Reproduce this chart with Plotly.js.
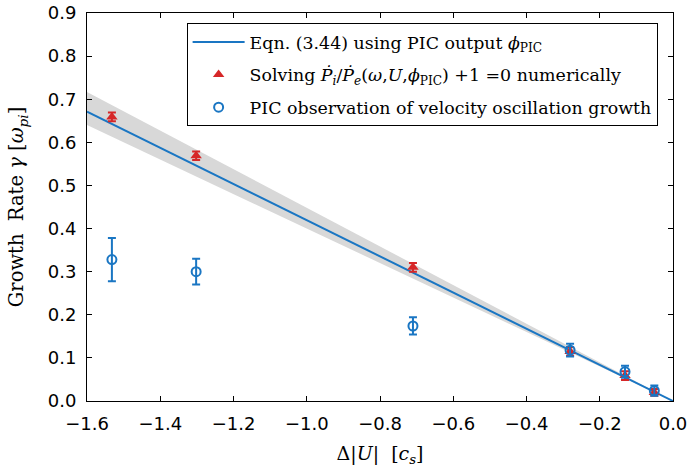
<!DOCTYPE html>
<html>
<head>
<meta charset="utf-8">
<script src="https://cdn.plot.ly/plotly-3.0.1.min.js"></script>
<style>html,body{margin:0;padding:0;background:#fff;}</style>
</head>
<body>
<div id="chart" style="width:688px;height:470px;"></div>
<script>
// Model line (Eqn. 3.44) and its uncertainty band
const lineX = [-1.6, 0.0];
const lineY = [0.671, 0.0];
const bandUpperY = [0.717, 0.0];
const bandLowerY = [0.640, 0.0];

// Numerical solution (red triangles)
const solveX = [-1.532, -1.302, -0.710, -0.281, -0.131, -0.051];
const solveY = [0.659, 0.569, 0.310, 0.115, 0.059, 0.020];
const solveErr = [0.010, 0.010, 0.010, 0.010, 0.010, 0.008];

// PIC observation (blue circles)
const picX = [-1.532, -1.302, -0.710, -0.281, -0.131, -0.051];
const picY = [0.328, 0.300, 0.174, 0.118, 0.068, 0.024];
const picErr = [0.050, 0.030, 0.020, 0.015, 0.014, 0.012];

const xTicks = [-1.6, -1.4, -1.2, -1.0, -0.8, -0.6, -0.4, -0.2, 0.0];
const xTickText = ['\u22121.6', '\u22121.4', '\u22121.2', '\u22121.0', '\u22120.8', '\u22120.6', '\u22120.4', '\u22120.2', '0.0'];
const yTicks = [0.0, 0.1, 0.2, 0.3, 0.4, 0.5, 0.6, 0.7, 0.8, 0.9];
const yTickText = ['0.0', '0.1', '0.2', '0.3', '0.4', '0.5', '0.6', '0.7', '0.8', '0.9'];

const BLUE = '#1a76c3';
const RED = '#d62728';
const serif = 'DejaVu Serif';
const sans = 'DejaVu Sans';

const traces = [
  { x: lineX, y: bandLowerY, mode: 'lines', line: {width: 0, color: 'rgba(0,0,0,0)'}, showlegend: false, hoverinfo: 'skip' },
  { x: lineX, y: bandUpperY, mode: 'lines', line: {width: 0, color: 'rgba(0,0,0,0)'}, fill: 'tonexty', fillcolor: '#d8d8d8', showlegend: false, hoverinfo: 'skip' },
  { x: lineX, y: lineY, mode: 'lines', line: {color: BLUE, width: 2}, legendgroup: 'a',
    name: 'Eqn. (3.44) using PIC output <i>ϕ</i><sub>PIC</sub>' },
  { x: solveX, y: solveY, mode: 'markers', legendgroup: 'b',
    marker: {symbol: 'triangle-up', size: 10, color: RED, line: {width: 0}},
    error_y: {type: 'data', array: solveErr, visible: true, color: RED, thickness: 2, width: 4},
    name: 'Solving <i>Ṗ<sub>i</sub></i>/<i>Ṗ<sub>e</sub></i>(<i>ω</i>,<i>U</i>,<i>ϕ</i><sub>PIC</sub>) +1 =0 numerically' },
  { x: picX, y: picY, mode: 'markers', legendgroup: 'c',
    marker: {symbol: 'circle-open', size: 9, color: BLUE, line: {width: 2, color: BLUE}},
    error_y: {type: 'data', array: picErr, visible: true, color: BLUE, thickness: 2, width: 4},
    name: 'PIC observation of velocity oscillation growth' }
];

const layout = {
  width: 688, height: 470,
  margin: {l: 87, r: 15, t: 13, b: 69},
  paper_bgcolor: '#fff', plot_bgcolor: '#fff',
  showlegend: true,
  legend: {
    x: 0.17, y: 0.974, xanchor: 'left', yanchor: 'top',
    traceorder: 'grouped', itemwidth: 52,
    bgcolor: '#fff', bordercolor: '#000', borderwidth: 1,
    font: {family: serif, size: 17.4, color: '#000'},
    tracegroupgap: 7
  },
  xaxis: {
    range: [-1.6, 0.0], tickvals: xTicks, ticktext: xTickText,
    ticks: 'inside', ticklen: 5, tickcolor: '#000', mirror: 'ticks',
    showline: true, linecolor: '#000', linewidth: 1, showgrid: false, zeroline: false,
    ticklabelstandoff: 6,
    tickfont: {family: sans, size: 18, color: '#000'},
    title: {text: 'Δ|<i>U</i>|  [<i>c<sub>s</sub></i>]', font: {family: serif, size: 19, color: '#000'}, standoff: 14}
  },
  yaxis: {
    range: [0.0, 0.9], tickvals: yTicks, ticktext: yTickText,
    ticks: 'inside', ticklen: 5, tickcolor: '#000', mirror: 'ticks',
    showline: true, linecolor: '#000', linewidth: 1, showgrid: false, zeroline: false,
    ticklabelstandoff: 6,
    tickfont: {family: sans, size: 18, color: '#000'},
    title: {text: 'Growth  Rate <i>γ</i> [<i>ω<sub>pi</sub></i>]', font: {family: serif, size: 19.5, color: '#000'}, standoff: 18}
  }
};

Plotly.newPlot('chart', traces, layout, {displayModeBar: false, staticPlot: true});
</script>
</body>
</html>
